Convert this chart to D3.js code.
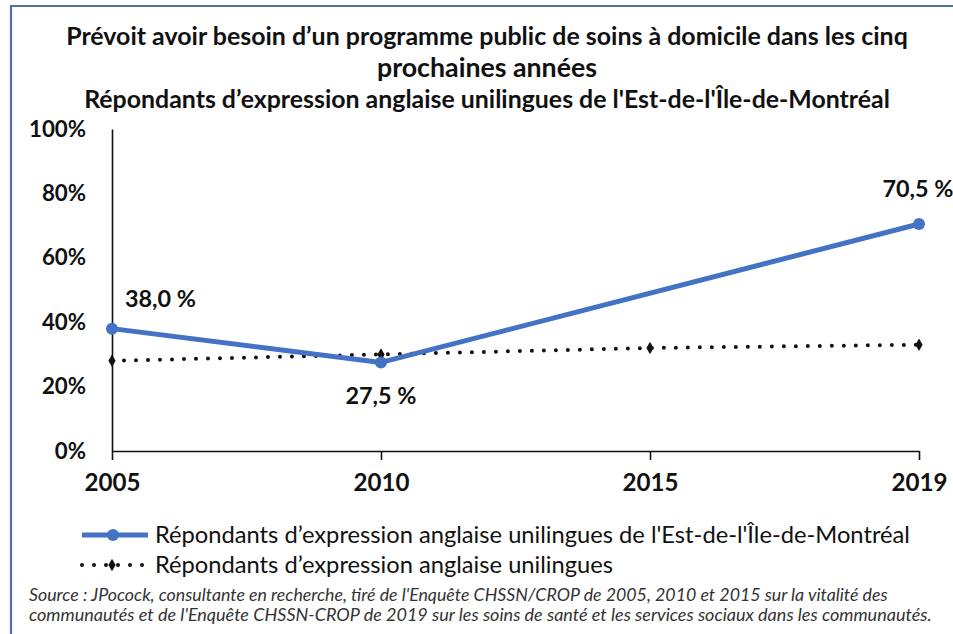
<!DOCTYPE html>
<html lang="fr">
<head>
<meta charset="utf-8">
<script src="https://cdn.jsdelivr.net/npm/d3@7"></script>
<style>
  html, body { margin: 0; padding: 0; background: #fff; }
  svg { display: block; font-family: Lato, "Open Sans", sans-serif; }
</style>
</head>
<body>
<svg id="chart" width="953" height="634"></svg>
<script>
// Survey years (categorical x axis)
const years = ["2005", "2010", "2015", "2019"];
// East-of-Montreal unilingual English speakers (no 2015 value)
const estMontreal = [38.0, 27.5, null, 70.5];
// All unilingual English-speaking respondents
const unilingues = [28.0, 30.0, 32.0, 33.0];
// Y axis tick values (percent)
const yTicks = [0, 20, 40, 60, 80, 100];
// Point labels for the highlighted series
const pointLabels = ["38,0 %", "27,5 %", null, "70,5 %"];

const titleLines = [
  "Prévoit avoir besoin d\u2019un programme public de soins à domicile dans les cinq",
  "prochaines années",
  "Répondants d\u2019expression anglaise unilingues de l'Est-de-l'Île-de-Montréal"
];
const seriesNames = [
  "Répondants d\u2019expression anglaise unilingues de l'Est-de-l'Île-de-Montréal",
  "Répondants d\u2019expression anglaise unilingues"
];
const sourceLines = [
  "Source : JPocock, consultante en recherche, tiré de l'Enquête CHSSN/CROP de 2005, 2010 et 2015 sur la vitalité des",
  "communautés et de l'Enquête CHSSN-CROP de 2019 sur les soins de santé et les services sociaux dans les communautés."
];

const svg = d3.select("#chart");
const blue = "#4472C4";
const ink = "#111";

// size a text element so that it spans the given width; returns the size used
function fitWidth(sel, width, base) {
  sel.style("font-size", base + "px");
  const w = sel.node().getComputedTextLength();
  const size = base * width / w;
  sel.style("font-size", size.toFixed(2) + "px");
  return size;
}

// frame
svg.append("path")
  .attr("d", "M11,634 V6 H953")
  .attr("fill", "none")
  .attr("stroke", "#4F6FA8")
  .attr("stroke-width", 2.2);

// title
const titleY = [45, 77, 108];
const titleW = [842, 220, 806];
titleLines.forEach((t, i) => {
  const el = svg.append("text")
    .attr("x", 487).attr("y", titleY[i])
    .attr("text-anchor", "middle")
    .attr("font-weight", 700)
    .attr("fill", ink)
    .text(t);
  fitWidth(el, titleW[i], 20);
});

const x = d3.scalePoint().domain(years).range([112, 919]);
const y = d3.scaleLinear().domain([0, 100]).range([451, 129]);

// y axis (line only, bold percent labels)
const yAxis = svg.append("g")
  .attr("transform", "translate(112,0)")
  .call(d3.axisLeft(y).tickValues(yTicks).tickSize(0).tickPadding(26).tickFormat(d => d + "%"));
yAxis.select(".domain").attr("stroke", ink).attr("stroke-width", 1.6);
const yText = yAxis.selectAll(".tick text")
  .attr("fill", ink)
  .attr("font-weight", 700)
  .attr("font-family", "Lato, sans-serif");
const ySize = fitWidth(yText.filter(d => d === 100), 57, 18);
yText.style("font-size", ySize.toFixed(2) + "px");

// x axis
const xAxis = svg.append("g")
  .attr("transform", "translate(0,451)")
  .call(d3.axisBottom(x).tickSize(9).tickSizeOuter(0).tickPadding(14));
xAxis.select(".domain").attr("stroke", ink).attr("stroke-width", 1.6);
xAxis.selectAll(".tick line").attr("stroke", ink).attr("stroke-width", 1.6);
const xText = xAxis.selectAll(".tick text")
  .attr("fill", ink)
  .attr("font-weight", 700)
  .attr("font-family", "Lato, sans-serif");
const xSize = fitWidth(xText.filter(d => d === "2005"), 56, 19);
xText.style("font-size", xSize.toFixed(2) + "px");

const line = d3.line().x(d => x(d.year)).y(d => y(d.value));

// dotted series
const uniData = years.map((yr, i) => ({ year: yr, value: unilingues[i] }));
svg.append("path")
  .datum(uniData)
  .attr("d", line)
  .attr("fill", "none")
  .attr("stroke", "#111")
  .attr("stroke-width", 4)
  .attr("stroke-linecap", "round")
  .attr("stroke-dasharray", "0 12");
svg.selectAll(".uni-mark")
  .data(uniData)
  .join("path")
  .attr("class", "uni-mark")
  .attr("transform", d => `translate(${x(d.year)},${y(d.value)})`)
  .attr("d", d3.symbol(d3.symbolDiamond, 45))
  .attr("fill", "#111");

// highlighted series (skip missing year)
const estData = years.map((yr, i) => ({ year: yr, value: estMontreal[i], label: pointLabels[i] }))
  .filter(d => d.value != null);
svg.append("path")
  .datum(estData)
  .attr("d", line)
  .attr("fill", "none")
  .attr("stroke", blue)
  .attr("stroke-width", 5)
  .attr("stroke-linejoin", "round");
svg.selectAll(".est-mark")
  .data(estData)
  .join("circle")
  .attr("class", "est-mark")
  .attr("cx", d => x(d.year))
  .attr("cy", d => y(d.value))
  .attr("r", 6)
  .attr("fill", blue);

// value labels
const labelPos = {
  "2005": { dx: 13, dy: -22, anchor: "start" },
  "2010": { dx: 0, dy: 42, anchor: "middle" },
  "2019": { dx: -1, dy: -27, anchor: "middle" }
};
estData.forEach(d => {
  const p = labelPos[d.year];
  const el = svg.append("text")
    .attr("x", x(d.year) + p.dx)
    .attr("y", y(d.value) + p.dy)
    .attr("text-anchor", p.anchor)
    .attr("font-weight", 700)
    .attr("fill", ink)
    .text(d.label);
  fitWidth(el, 71, 18);
});

// legend
const lg = svg.append("g");
lg.append("line").attr("x1", 82).attr("x2", 148).attr("y1", 535).attr("y2", 535)
  .attr("stroke", blue).attr("stroke-width", 5);
lg.append("circle").attr("cx", 113).attr("cy", 535).attr("r", 6).attr("fill", blue);
lg.append("line").attr("x1", 82).attr("x2", 148).attr("y1", 565).attr("y2", 565)
  .attr("stroke", "#111").attr("stroke-width", 4)
  .attr("stroke-linecap", "round").attr("stroke-dasharray", "0 12");
lg.append("path").attr("transform", "translate(112,565)")
  .attr("d", d3.symbol(d3.symbolDiamond, 45)).attr("fill", "#111");

const legW = [755, 458];
seriesNames.forEach((t, i) => {
  const el = lg.append("text")
    .attr("x", 155).attr("y", 535 + i * 30)
    .attr("dy", "0.35em")
    .attr("fill", ink)
    .text(t);
  fitWidth(el, legW[i], 19);
});

// source note
const srcW = [859, 903];
sourceLines.forEach((t, i) => {
  const el = svg.append("text")
    .attr("x", 29).attr("y", 601 + i * 20)
    .attr("font-style", "italic")
    .attr("fill", "#333")
    .text(t);
  fitWidth(el, srcW[i], 12.5);
});
</script>
</body>
</html>
